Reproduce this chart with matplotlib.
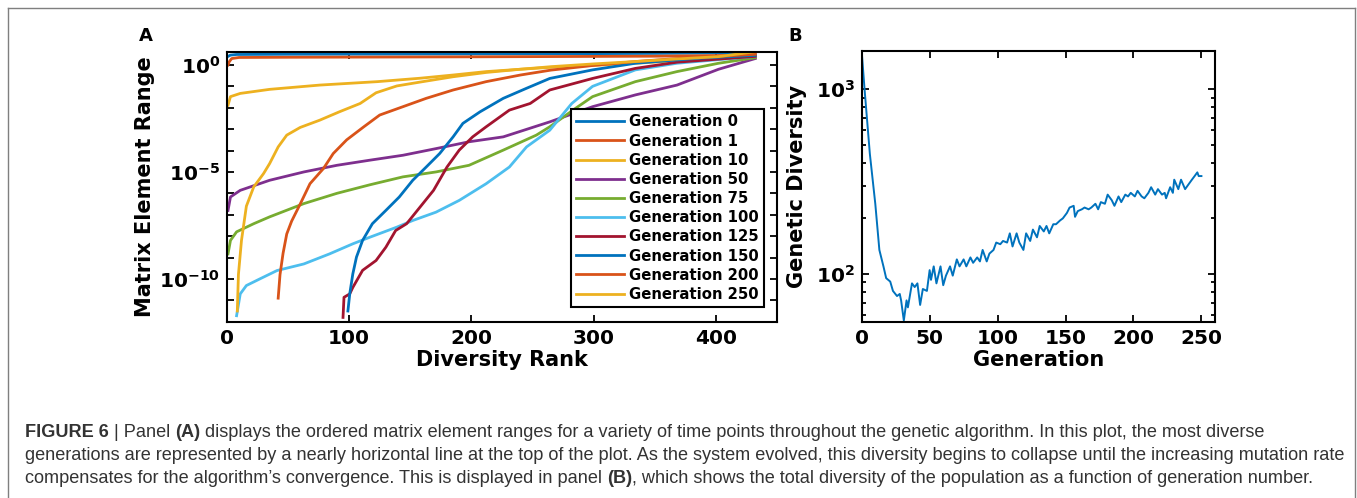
import numpy as np
import matplotlib
matplotlib.use("Agg")
import matplotlib.pyplot as plt
from matplotlib.ticker import FixedLocator, FuncFormatter, NullFormatter
from matplotlib.lines import Line2D

# ---------------- Panel A data (diversity rank, log10 of matrix element range) ----------------
gen0_rank = [1, 3, 8, 50, 150, 250, 350, 400, 425, 432]
gen0_log = [0.40, 0.46, 0.49, 0.50, 0.51, 0.52, 0.54, 0.56, 0.58, 0.62]

gen1_rank = [1, 2, 4, 10, 50, 200, 350, 420, 432]
gen1_log = [0.0, 0.15, 0.30, 0.35, 0.36, 0.38, 0.41, 0.45, 0.50]

gen10_rank = [1, 3, 11, 35, 76, 123, 158, 185, 212, 240, 265, 300, 334, 368, 402, 432]
gen10_log = [-1.88, -1.48, -1.33, -1.14, -0.94, -0.78, -0.62, -0.47, -0.31, -0.20, -0.11,
             -0.02, 0.08, 0.20, 0.32, 0.45]

gen50_rank = [1, 3, 11, 35, 63, 90, 117, 144, 171, 198, 226, 264, 299, 334, 368, 402, 432]
gen50_log = [-6.8, -6.17, -5.86, -5.39, -5.0, -4.69, -4.45, -4.22, -3.91, -3.59, -3.36,
             -2.66, -1.95, -1.4, -0.94, -0.2, 0.3]

gen75_rank = [1, 3, 8, 22, 35, 63, 90, 117, 144, 171, 198, 226, 253, 264, 285, 299, 334,
              368, 402, 432]
gen75_log = [-8.83, -8.2, -7.8, -7.42, -7.1, -6.48, -6.0, -5.6, -5.23, -5.0, -4.69, -3.98,
             -3.28, -2.89, -2.03, -1.48, -0.78, -0.31, 0.08, 0.34]

gen100_rank = [8, 11, 16, 27, 41, 63, 84, 103, 117, 139, 152, 171, 190, 212, 231, 245, 264,
               282, 299, 334, 368, 402, 432]
gen100_log = [-11.72, -10.7, -10.31, -10.0, -9.61, -9.3, -8.83, -8.36, -8.05, -7.58, -7.27,
              -6.88, -6.33, -5.55, -4.77, -3.83, -3.05, -1.8, -1.0, -0.23, 0.08, 0.25, 0.4]

gen125_rank = [95, 95.8, 100.5, 103, 111, 122, 130, 138, 147, 158, 169, 180, 190, 201, 212,
               231, 248, 264, 299, 334, 368, 432]
gen125_log = [-11.8, -10.86, -10.7, -10.4, -9.6, -9.14, -8.52, -7.74, -7.42, -6.64, -5.86,
              -4.77, -3.98, -3.36, -2.89, -2.11, -1.8, -1.17, -0.63, -0.16, 0.13, 0.4]

gen150_rank = [99, 100.5, 103, 106, 111, 119, 130, 141, 152, 163, 174, 185, 193, 207, 226,
               245, 264, 299, 334, 385, 432]
gen150_log = [-11.5, -10.7, -9.77, -8.98, -8.2, -7.42, -6.8, -6.17, -5.39, -4.77, -4.14,
              -3.36, -2.73, -2.19, -1.56, -1.09, -0.63, -0.23, 0.08, 0.31, 0.45]

gen200_rank = [42, 43.5, 46, 49, 53, 60, 68, 79, 87, 98, 112, 125, 144, 163, 185, 212, 240,
               265, 300, 334, 368, 402, 432]
gen200_log = [-10.9, -9.8, -8.8, -7.9, -7.3, -6.5, -5.55, -4.84, -4.14, -3.5, -2.89, -2.34,
              -1.95, -1.56, -1.17, -0.78, -0.47, -0.24, -0.02, 0.16, 0.3, 0.4, 0.5]

gen250_rank = [8.6, 9.5, 12, 16, 22, 30, 35, 42, 49, 60, 76, 92, 109, 122, 139, 158, 185,
               212, 240, 265, 300, 334, 368, 402, 432]
gen250_log = [-11.5, -9.8, -8.2, -6.6, -5.7, -5.08, -4.61, -3.83, -3.28, -2.92, -2.58, -2.19,
              -1.8, -1.3, -0.98, -0.8, -0.55, -0.35, -0.2, -0.08, 0.05, 0.16, 0.28, 0.39, 0.62]

series_labels = ["Generation 0", "Generation 1", "Generation 10", "Generation 50",
                 "Generation 75", "Generation 100", "Generation 125", "Generation 150",
                 "Generation 200", "Generation 250"]
series_ranks = [gen0_rank, gen1_rank, gen10_rank, gen50_rank, gen75_rank, gen100_rank,
                gen125_rank, gen150_rank, gen200_rank, gen250_rank]
series_logs = [gen0_log, gen1_log, gen10_log, gen50_log, gen75_log, gen100_log,
               gen125_log, gen150_log, gen200_log, gen250_log]
series_colors = ["#0072BD", "#D95319", "#EDB120", "#7E2F8E", "#77AC30", "#4DBEEE",
                 "#A2142F", "#0072BD", "#D95319", "#EDB120"]

# ---------------- Panel B data ----------------
gen_b = [0, 2, 6, 10, 13, 16, 18, 21, 23, 26, 28, 29, 31, 33, 34, 37, 39, 41, 43, 45, 48,
         50, 51, 53, 55, 58, 60, 62, 65, 67, 70, 72, 75, 77, 80, 82, 85, 87, 89, 92, 94,
         97, 99, 102, 104, 107, 109, 111, 114, 116, 119, 121, 124, 126, 129, 131, 134,
         136, 138, 141, 143, 146, 148, 151, 153, 156, 157, 159, 162, 164, 167, 169, 172,
         174, 176, 179, 181, 184, 186, 189, 191, 194, 196, 198, 201, 203, 206, 208, 211,
         213, 216, 218, 221, 223, 224, 227, 229, 230, 233, 235, 238, 240, 243, 245, 247,
         248, 250]
diversity_b = [1600, 1023, 447, 240, 135, 110, 95, 91, 81, 76, 78, 72, 56, 72, 66, 89, 85,
               89, 68, 83, 81, 105, 93, 110, 89, 110, 87, 98, 110, 98, 120, 110, 120, 110,
               123, 115, 123, 117, 135, 117, 129, 135, 148, 145, 151, 148, 166, 141, 166,
               148, 135, 166, 151, 174, 158, 182, 170, 182, 166, 186, 186, 195, 200, 214,
               229, 234, 204, 219, 224, 229, 224, 229, 240, 224, 245, 240, 269, 251, 234,
               263, 245, 269, 263, 275, 263, 282, 263, 257, 275, 295, 269, 288, 269, 275,
               257, 295, 275, 324, 288, 324, 288, 302, 324, 339, 355, 339, 339]

# ---------------- Figure ----------------
W, H = 1357, 498
fig = plt.figure(figsize=(W / 100, H / 100), dpi=100)
fig.patch.set_facecolor("white")

FONT = "DejaVu Sans"

def ax_rect(l, t, r, b):
    return [l / W, 1 - b / H, (r - l) / W, (b - t) / H]

# ---- Panel A ----
axA = fig.add_axes(ax_rect(226.8, 51.7, 777.3, 321.7))
for rk, lg, col, lab in zip(series_ranks, series_logs, series_colors, series_labels):
    axA.plot(rk, 10.0 ** np.array(lg), color=col, lw=2.0, label=lab, solid_joinstyle="round")
axA.set_yscale("log")
axA.set_xlim(0, 450)
axA.set_ylim(1e-12, 10 ** 0.62)
axA.set_xticks([0, 100, 200, 300, 400])
axA.yaxis.set_major_locator(FixedLocator([10.0 ** k for k in range(-12, 1)]))
axA.yaxis.set_minor_locator(FixedLocator([]))

def fmtA(v, pos):
    e = int(round(np.log10(v)))
    if e % 5 == 0:
        return r"$\mathbf{10^{%d}}$" % e
    return ""
axA.yaxis.set_major_formatter(FuncFormatter(fmtA))
axA.set_xlabel("Diversity Rank", fontsize=15, fontweight="bold", family=FONT, labelpad=2)
axA.set_ylabel("Matrix Element Range", fontsize=15, fontweight="bold", family=FONT, labelpad=3)
leg = axA.legend(loc="upper right", bbox_to_anchor=(0.976, 0.787), borderaxespad=0,
                 fancybox=False, framealpha=1, edgecolor="black",
                 prop={"weight": "bold", "size": 10.7, "family": FONT},
                 handlelength=3.2, handletextpad=0.35, labelspacing=0.28, borderpad=0.35)
leg.get_frame().set_linewidth(1.5)

# ---- Panel B ----
axB = fig.add_axes(ax_rect(861.7, 51.0, 1215.0, 321.7))
axB.plot(gen_b, diversity_b, color="#0072BD", lw=1.4)
axB.set_yscale("log")
axB.set_xlim(0, 260)
axB.set_ylim(55.2, 1611)
axB.set_xticks([0, 50, 100, 150, 200, 250])
axB.yaxis.set_major_locator(FixedLocator([100, 1000]))
axB.yaxis.set_minor_locator(FixedLocator([60, 70, 80, 90, 200, 300, 400, 500, 600, 700, 800, 900]))
axB.yaxis.set_minor_formatter(NullFormatter())
axB.yaxis.set_major_formatter(FuncFormatter(lambda v, p: r"$\mathbf{10^{%d}}$" % int(round(np.log10(v)))))
axB.set_xlabel("Generation", fontsize=15, fontweight="bold", family=FONT, labelpad=2)
axB.set_ylabel("Genetic Diversity", fontsize=15, fontweight="bold", family=FONT, labelpad=6)

for ax in (axA, axB):
    for s in ax.spines.values():
        s.set_linewidth(1.5)
        s.set_color("black")
    ax.tick_params(which="both", direction="in", top=True, right=True, width=1.3,
                   labelsize=14.5, pad=5)
    ax.tick_params(which="major", length=5)
    ax.tick_params(which="minor", length=3)
    for lbl in ax.get_xticklabels() + ax.get_yticklabels():
        lbl.set_fontweight("bold")
        lbl.set_family(FONT)

# panel letters
fig.text(146 / W, 1 - 36 / H, "A", fontsize=13, fontweight="bold", family=FONT,
         ha="center", va="center")
fig.text(795 / W, 1 - 36 / H, "B", fontsize=13, fontweight="bold", family=FONT,
         ha="center", va="center")

# figure frame (left, top, right)
fc = "#7f7f7f"
fig.add_artist(Line2D([8 / W, 8 / W], [0, 1 - 8 / H], transform=fig.transFigure, color=fc, lw=1))
fig.add_artist(Line2D([8 / W, 1355 / W], [1 - 8 / H, 1 - 8 / H], transform=fig.transFigure, color=fc, lw=1))
fig.add_artist(Line2D([1355 / W, 1355 / W], [0, 1 - 8 / H], transform=fig.transFigure, color=fc, lw=1))

# caption with mixed weights
cap_lines = [
    [("FIGURE 6", True), (" | Panel ", False), ("(A)", True),
     (" displays the ordered matrix element ranges for a variety of time points throughout the genetic algorithm. In this plot, the most diverse", False)],
    [("generations are represented by a nearly horizontal line at the top of the plot. As the system evolved, this diversity begins to collapse until the increasing mutation rate", False)],
    [("compensates for the algorithm\u2019s convergence. This is displayed in panel ", False), ("(B)", True),
     (", which shows the total diversity of the population as a function of generation number.", False)],
]
cap_baselines = [437, 460, 483]
cap_font = "Liberation Sans"
cap_size = 13.1
cap_color = "#333333"
renderer = fig.canvas.get_renderer()
for pieces, yb in zip(cap_lines, cap_baselines):
    x = 25.0
    for txt, bold in pieces:
        wt = "bold" if bold else "normal"
        fig.text(x / W, 1 - yb / H, txt, fontsize=cap_size, family=cap_font,
                 fontweight=wt, color=cap_color, ha="left", va="baseline")
        probe = fig.text(0, 0, txt.replace(" ", "\u00a0") + "|", fontsize=cap_size,
                         family=cap_font, fontweight=wt)
        probe2 = fig.text(0, 0, "|", fontsize=cap_size, family=cap_font, fontweight=wt)
        w = probe.get_window_extent(renderer).width - probe2.get_window_extent(renderer).width
        probe.remove()
        probe2.remove()
        x += w

fig.savefig("out.png", dpi=100, facecolor="white")
